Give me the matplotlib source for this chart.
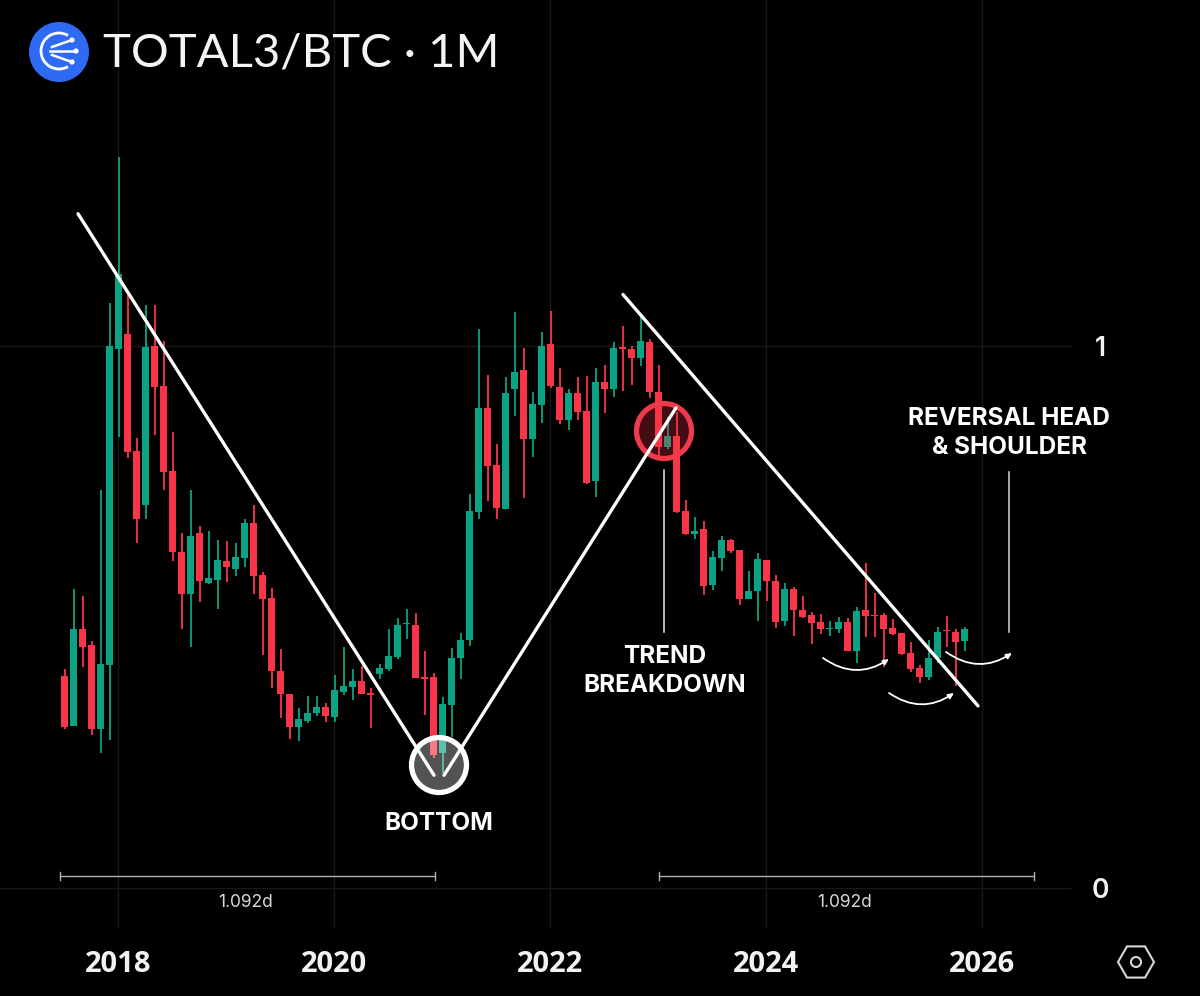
import numpy as np
import matplotlib
matplotlib.use("Agg")
import matplotlib.pyplot as plt
from matplotlib.patches import Circle, Arc, RegularPolygon, FancyArrowPatch

# ---- chart values (top of body, bottom of body, high, low, direction), monthly from 2017-07
start_year = 2017.5
direction = list("RGRRGGGRRG" "RRRRGRGGRG" "GRRRRRGGGR" "GGGRRGGGGR" "RRGGGGGRRG"
                 "GRGGRRGRRG" "RGRRGRRGRR" "GRGGRRGGRR" "GRRRRGGRGR" "RRRRRRGGRRG")
body_top = [.391,.478,.478,.448,.413,1.000,1.133,1.022,.806,.998,1.000,.926,.769,.620,.649,.655,.572,.605,.603,.611,.673,.673,.577,.535,.400,.358,.312,.323,.334,.334,.365,.373,.382,.382,.360,.406,.428,.485,.489,.485,.389,.389,.339,.424,.458,.696,.886,.886,.780,.913,.952,.956,.893,1.000,1.004,.924,.913,.913,.880,.934,.934,.996,.998,.994,1.009,1.007,.915,.834,.834,.696,.659,.662,.611,.642,.642,.624,.548,.607,.605,.566,.552,.552,.513,.504,.491,.480,.491,.491,.511,.513,.504,.504,.480,.470,.434,.406,.424,.472,.476,.472,.478]
body_bottom = [.297,.299,.445,.293,.293,.411,.994,.804,.681,.707,.924,.768,.620,.542,.542,.566,.563,.568,.592,.589,.609,.576,.533,.400,.358,.297,.297,.308,.323,.317,.315,.362,.371,.358,.356,.395,.404,.426,.487,.387,.386,.245,.249,.338,.424,.458,.694,.779,.701,.699,.921,.828,.828,.891,.926,.863,.863,.878,.747,.751,.921,.921,.994,.978,.978,.915,.814,.814,.694,.653,.653,.557,.559,.609,.622,.533,.533,.548,.566,.491,.493,.513,.500,.489,.478,.478,.478,.437,.437,.502,.502,.478,.469,.432,.404,.389,.389,.424,.474,.454,.456]
highs = [.404,.552,.539,.456,.734,1.079,1.349,1.098,.830,1.076,1.076,1.009,.841,.655,.734,.668,.659,.642,.640,.637,.681,.707,.583,.554,.441,.358,.332,.354,.354,.341,.393,.445,.404,.410,.369,.413,.478,.498,.515,.507,.437,.397,.352,.443,.470,.727,1.031,.946,.819,.943,1.063,.996,.915,1.026,1.065,.959,.921,.943,.945,.959,.965,1.007,1.037,1.000,1.054,1.013,.965,.869,.878,.716,.684,.677,.622,.649,.644,.624,.585,.618,.605,.577,.563,.555,.539,.509,.506,.493,.500,.498,.518,.600,.544,.507,.496,.470,.454,.411,.458,.482,.502,.478,.482]
lows = [.293,.299,.408,.282,.249,.273,.832,.793,.637,.681,.836,.734,.603,.478,.445,.528,.561,.515,.565,.576,.592,.542,.430,.369,.314,.275,.271,.304,.317,.306,.306,.356,.347,.358,.295,.386,.400,.423,.459,.387,.319,.240,.212,.279,.386,.446,.681,.714,.681,.699,.871,.720,.795,.858,.923,.856,.845,.863,.745,.721,.876,.906,.917,.928,.963,.904,.795,.810,.692,.651,.644,.541,.550,.585,.618,.522,.533,.493,.530,.480,.483,.465,.498,.450,.469,.465,.470,.437,.415,.463,.463,.408,.467,.430,.399,.378,.384,.415,.445,.373,.437]

year_ticks = [2018, 2020, 2022, 2024, 2026]
value_ticks = [0, 1]

# drawn trend lines (year, value)
down_line_1 = ([2017.63, 2020.926], [1.244, .208])
up_line = ([2021.019, 2023.167], [.208, .886])
down_line_2 = ([2022.676, 2025.963], [1.095, .336])
range_1 = ([2017.463, 2020.935], [.022, .022])
range_2 = ([2023.009, 2026.481], [.022, .022])
range_label = "1.092d"

GREEN = "#0ca284"
RED = "#fb3549"
GRID = "#181818"
WHITE = "#ffffff"
FONT = "Inter"

fig = plt.figure(figsize=(12, 9.96), dpi=100, facecolor="black")
ax = fig.add_axes([0, 0, 1, 1], facecolor="black")
ax.set_xlim(2018 - 118 / 108, 2018 + 1082 / 108)
ax.set_ylim(-108 / 542, 888 / 542)
ax.axis("off")

ov = fig.add_axes([0, 0, 1, 1], facecolor="none")
ov.set_xlim(0, 1200)
ov.set_ylim(996, 0)
ov.axis("off")

# grid
for yr in year_ticks:
    ax.plot([yr, yr], [-.072, 888 / 542], color=GRID, lw=1.0, zorder=1)
for v in value_ticks:
    ax.plot([ax.get_xlim()[0], 2018 + (1070 - 118) / 108], [v, v], color=GRID, lw=1.0, zorder=1)

# candles
x = start_year + np.arange(len(body_top)) / 12 + .005
colors = [GREEN if d == "G" else RED for d in direction]
ax.vlines(x, lows, highs, colors=colors, lw=1.3, zorder=2)
ax.bar(x, np.array(body_top) - np.array(body_bottom), bottom=body_bottom, width=7.6 / 108,
       color=colors, linewidth=0, zorder=3)

# highlight circles
ov.add_patch(Circle((439, 765), 27.5, fc=(1, 1, 1, .33), ec="white", lw=3.8, zorder=4))
ov.add_patch(Circle((664, 431), 27.5, fc=(.95, .2, .27, .28), ec="#ee3a4a", lw=3.8, zorder=4))

# trend lines
for xs, ys in (down_line_1, up_line, down_line_2):
    ov.plot(xs, ys, color=WHITE, lw=2.4, solid_capstyle="round", transform=ax.transData, zorder=5)
ov.plot([664, 664], [470, 632], color="#e8e8e8", lw=1.1, zorder=5)
ov.plot([1009, 1009], [472, 632], color="#d8d8d8", lw=1.1, zorder=5)

# range brackets
for (xs, ys) in (range_1, range_2):
    ax.plot(xs, ys, color="#b0b0b0", lw=1.0, zorder=4)
    for xv in xs:
        ax.plot([xv, xv], [ys[0] - .008, ys[0] + .008], color="#b0b0b0", lw=1.0, zorder=4)
    ax.text(sum(xs) / 2 - .02, ys[0] - .049, range_label, color="#d8d8d8", fontsize=12.5,
            family=FONT, ha="center", va="center", zorder=5)

# tick labels
for yr in year_ticks:
    ax.text(yr, -.142, str(yr), color="#f2f2f2", fontsize=21, fontweight="bold", family="Open Sans",
            ha="center", va="center")
for v in value_ticks:
    ax.text(2018 + (1100 - 118) / 108, v - .006, str(v), color="#f2f2f2", fontsize=19, fontweight="semibold",
            family=FONT, ha="center", va="center")

# annotation text
def note(px, py, s):
    ov.text(px, py, s, color=WHITE, fontsize=17.5, fontweight="bold", family=FONT,
            ha="center", va="center", linespacing=1.36, zorder=6)

note(439, 823, "BOTTOM")
note(665, 671, "TREND\nBREAKDOWN")
note(1009, 433, "REVERSAL HEAD\n& SHOULDER")

# curved arrows
for a, b in (((823, 658), (889, 659)), ((889, 693), (954, 693)), ((946, 652), (1012, 653))):
    ov.add_patch(FancyArrowPatch(a, b, connectionstyle="arc3,rad=0.34", arrowstyle="-|>,head_length=3.2,head_width=1.5",
                                 color="white", lw=1.3, shrinkA=0, shrinkB=0, zorder=6))

# title and logo
ov.text(103, 53, "TOTAL3/BTC · 1M", color="#f5f5f5", fontsize=34, family="Lato", ha="left", va="center")
ov.add_patch(Circle((59, 52), 30, fc="#2f6af5", ec="none"))
ov.add_patch(Arc((59, 51), 36, 36, theta1=60, theta2=300, color="white", lw=2.0))
for (x1, y1), (x2, y2) in (((50, 51), (76, 51)), ((52, 47), (72, 40)), ((52, 55), (72, 62))):
    ov.plot([x1, x2], [y1, y2], color="white", lw=1.8)
    ov.add_patch(Circle((x2, y2), 2.6, fc="white", ec="none"))

# settings icon
ov.add_patch(RegularPolygon((1136, 962), 6, radius=18, orientation=np.pi / 6, fc="none", ec="#d8d8d8", lw=1.5))
ov.add_patch(Circle((1136, 962), 5, fc="none", ec="#d8d8d8", lw=1.5))

ov.set_xlim(0, 1200)
ov.set_ylim(996, 0)
fig.savefig("out.png", dpi=100, facecolor="black")
